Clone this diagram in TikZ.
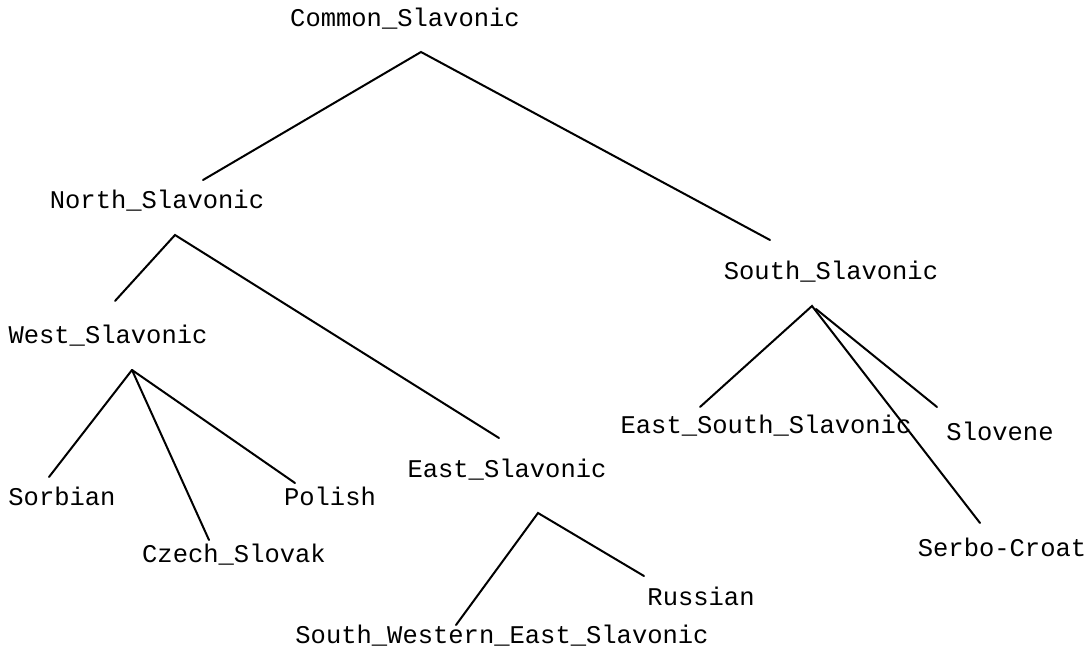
\documentclass[tikz,border=0pt]{standalone}
\usepackage{fontspec}
\setmonofont{Liberation Mono}
\begin{document}
\begin{tikzpicture}[x=1pt,y=-1pt,
  lbl/.style={font=\ttfamily\fontsize{25.5}{30}\selectfont, inner sep=0pt, anchor=base},
  edge/.style={line width=2pt, line cap=round}]
\useasboundingbox (0,0) rectangle (1086,650);
% labels
\node[lbl] (cs)   at (405,27)  {Common\_Slavonic};
\node[lbl] (ns)   at (157,208) {North\_Slavonic};
\node[lbl] (ss)   at (831,279) {South\_Slavonic};
\node[lbl] (ws)   at (108,343) {West\_Slavonic};
\node[lbl] (es)   at (507,477) {East\_Slavonic};
\node[lbl] (sor)  at (62,505)  {Sorbian};
\node[lbl] (cz)   at (234,562) {Czech\_Slovak};
\node[lbl] (pol)  at (330,505) {Polish};
\node[lbl] (rus)  at (701,605) {Russian};
\node[lbl] (swes) at (502,643) {South\_Western\_East\_Slavonic};
\node[lbl] (ess)  at (766,433) {East\_South\_Slavonic};
\node[lbl] (slo)  at (1000,440) {Slovene};
\node[lbl] (sc)   at (1002,556) {Serbo-Croat};
% edge end points
\coordinate (cs-b)   at (421,52);
\coordinate (ns-t)   at (203,180);
\coordinate (ss-t)   at (770,240);
\coordinate (ns-b)   at (175,235);
\coordinate (ws-t)   at (115,301);
\coordinate (es-t)   at (499,438);
\coordinate (ws-b)   at (132,370);
\coordinate (sor-t)  at (49,477);
\coordinate (cz-t)   at (209,540);
\coordinate (pol-t)  at (295,483);
\coordinate (es-b)   at (538,513);
\coordinate (swes-t) at (456,625);
\coordinate (rus-t)  at (644,576);
\coordinate (ss-b)   at (812,306);
\coordinate (ss-b2)  at (816,309);
\coordinate (ess-t)  at (700,407);
\coordinate (sc-t)   at (980,523);
\coordinate (slo-t)  at (937,407);
% edges
\draw[edge] (ns-t) -- (cs-b) -- (ss-t);
\draw[edge] (ws-t) -- (ns-b) -- (es-t);
\draw[edge] (ws-b) -- (sor-t);
\draw[edge] (ws-b) -- (cz-t);
\draw[edge] (ws-b) -- (pol-t);
\draw[edge] (swes-t) -- (es-b) -- (rus-t);
\draw[edge] (ess-t) -- (ss-b) -- (sc-t);
\draw[edge] (ss-b2) -- (slo-t);
\end{tikzpicture}
\end{document}
